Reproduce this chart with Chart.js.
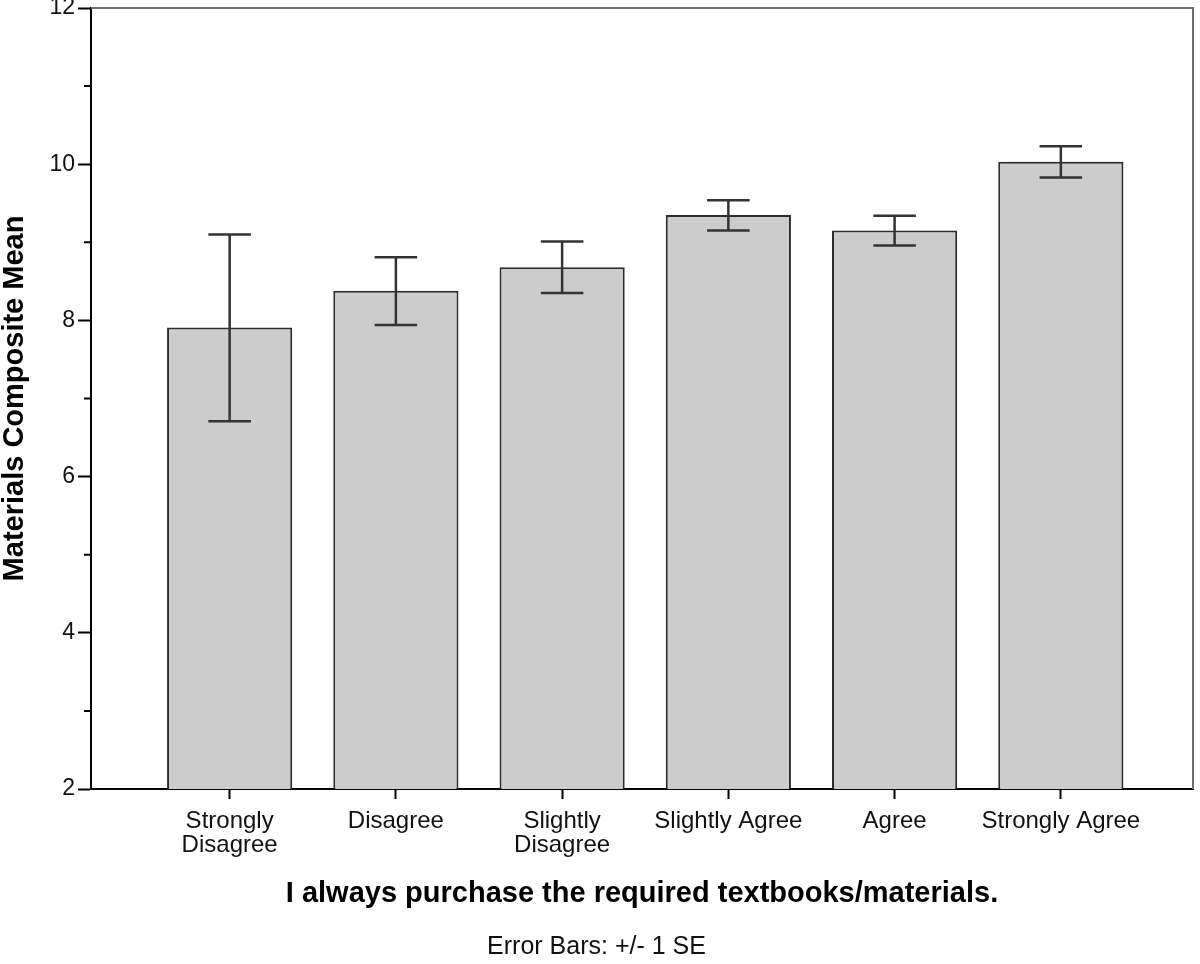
<!DOCTYPE html>
<html>
<head>
<meta charset="utf-8">
<script src="https://cdn.jsdelivr.net/npm/chart.js@4.4.1/dist/chart.umd.min.js"></script>
<style>
  html, body { margin: 0; padding: 0; background: #fff; }
  #wrap { width: 1200px; height: 964px; }
</style>
</head>
<body>
<div id="wrap"><canvas id="meanChart" width="1200" height="964"></canvas></div>
<script>
// categories (x axis)
const categories = [
  ["Strongly", "Disagree"],
  "Disagree",
  ["Slightly", "Disagree"],
  "Slightly Agree",
  "Agree",
  "Strongly Agree"
];
// bar heights (composite mean)
const means = [7.91, 8.38, 8.68, 9.35, 9.15, 10.03];
// error bar ends (+/- 1 SE)
const seLow = [6.71, 7.94, 8.35, 9.15, 8.96, 9.83];
const seHigh = [9.10, 8.81, 9.01, 9.54, 9.34, 10.23];
// y axis
const yTicks = [2, 4, 6, 8, 10, 12];

const FONT = "'Liberation Sans', Arial, sans-serif";

const errorBars = {
  id: 'errorBars',
  afterDatasetsDraw(chart) {
    const ctx = chart.ctx;
    const meta = chart.getDatasetMeta(0);
    const y = chart.scales.y;
    ctx.save();
    ctx.strokeStyle = '#333';
    ctx.lineWidth = 2.5;
    meta.data.forEach((bar, i) => {
      const top = y.getPixelForValue(seHigh[i]);
      const bot = y.getPixelForValue(seLow[i]);
      const half = bar.width * 0.17;
      ctx.beginPath();
      ctx.moveTo(bar.x, top);
      ctx.lineTo(bar.x, bot);
      ctx.moveTo(bar.x - half, top);
      ctx.lineTo(bar.x + half, top);
      ctx.moveTo(bar.x - half, bot);
      ctx.lineTo(bar.x + half, bot);
      ctx.stroke();
    });
    ctx.restore();
  }
};

// frame on top/right, minor ticks on y
const frame = {
  id: 'frame',
  afterDraw(chart) {
    const ctx = chart.ctx;
    const a = chart.chartArea;
    const y = chart.scales.y;
    ctx.save();
    ctx.strokeStyle = '#6e6e6e';
    ctx.lineWidth = 2;
    ctx.beginPath();
    ctx.moveTo(a.left, a.top);
    ctx.lineTo(a.right, a.top);
    ctx.lineTo(a.right, a.bottom);
    ctx.stroke();
    ctx.strokeStyle = '#000';
    ctx.beginPath();
    for (let v = 3; v < 12; v += 2) {
      const py = y.getPixelForValue(v);
      ctx.moveTo(a.left - 7, py);
      ctx.lineTo(a.left, py);
    }
    ctx.stroke();
    ctx.restore();
  }
};

new Chart(document.getElementById('meanChart'), {
  type: 'bar',
  data: {
    datasets: [{
      data: means.map((m, i) => ({ x: i, y: m })),
      backgroundColor: '#cccccc',
      borderColor: '#2b2b2b',
      borderWidth: 2,
      borderSkipped: false,
      barPercentage: 0.753,
      categoryPercentage: 1.0
    }]
  },
  options: {
    responsive: false,
    animation: false,
    events: [],
    layout: { padding: { left: 0, right: 7, top: 8, bottom: 0 } },
    plugins: {
      legend: { display: false },
      tooltip: { enabled: false },
      title: {
        display: true,
        position: 'bottom',
        text: 'Error Bars: +/- 1 SE',
        color: '#111',
        font: { family: FONT, size: 25, weight: 'normal', lineHeight: 1.2 },
        padding: { top: 0, bottom: 2 }
      }
    },
    scales: {
      x: {
        type: 'linear',
        offset: false,
        min: -0.834,
        max: 5.795,
        afterBuildTicks: s => { s.ticks = categories.map((c, i) => ({ value: i })); },
        afterFit: s => { s.height = 143; s.paddingLeft = 0; s.paddingRight = 0; },
        ticks: {
          autoSkip: false,
          maxRotation: 0,
          padding: 10,
          color: '#111',
          font: { family: FONT, size: 24, lineHeight: 1.02 },
          callback: v => categories[v]
        },
        grid: {
          offset: false,
          drawOnChartArea: false,
          tickLength: 10,
          tickColor: '#000',
          tickWidth: 2
        },
        border: { display: true, color: '#000', width: 2 },
        title: {
          display: true,
          text: 'I always purchase the required textbooks/materials.',
          color: '#000',
          font: { family: FONT, size: 29, weight: 'bold', lineHeight: 1.2 },
          padding: { top: 0, bottom: 21 }
        }
      },
      y: {
        min: 2,
        max: 12,
        afterBuildTicks: s => { s.ticks = yTicks.map(v => ({ value: v })); },
        afterFit: s => { s.width = 91; s.paddingTop = 0; s.paddingBottom = 0; },
        ticks: {
          padding: 3,
          color: '#111',
          font: { family: FONT, size: 23 }
        },
        grid: {
          drawOnChartArea: false,
          tickLength: 13,
          tickColor: '#000',
          tickWidth: 2
        },
        border: { display: true, color: '#000', width: 2 },
        title: {
          display: true,
          text: 'Materials Composite Mean',
          color: '#000',
          font: { family: FONT, size: 29, weight: 'bold', lineHeight: 1.05 },
          padding: { top: 0, bottom: 0 }
        }
      }
    }
  },
  plugins: [errorBars, frame]
});
</script>
</body>
</html>
